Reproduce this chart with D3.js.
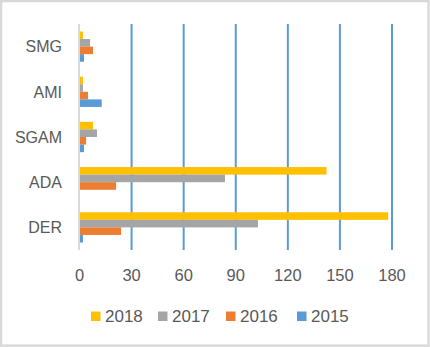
<!DOCTYPE html>
<html>
<head>
<meta charset="utf-8">
<script src="https://cdn.jsdelivr.net/npm/d3@7"></script>
<style>
  html, body { margin: 0; padding: 0; background: #fff; }
  svg { display: block; font-family: "Liberation Sans", Arial, sans-serif; }
</style>
</head>
<body>
<div id="chart"></div>
<script>
// categories top -> bottom, series top -> bottom inside each group
const categories = ['SMG', 'AMI', 'SGAM', 'ADA', 'DER'];
const series = ['2018', '2017', '2016', '2015'];
const legendOrder = ['2018', '2017', '2016', '2015'];
const ticks = [0, 30, 60, 90, 120, 150, 180];

const v2018 = [1.7, 1.7, 7.5, 142, 177.5];
const v2017 = [5.8, 1.7, 9.8, 83.5, 102.5];
const v2016 = [7.5, 4.6, 3.5, 20.8, 23.7];
const v2015 = [2.3, 12.5, 2.3, 0, 1.7];

const valuesBySeries = { '2018': v2018, '2017': v2017, '2016': v2016, '2015': v2015 };
const colors = { '2018': '#FFC000', '2017': '#A5A5A5', '2016': '#ED7D31', '2015': '#5B9BD5' };

const W = 430, H = 347;
const plot = { left: 79.5, right: 392, top: 24, bottom: 250 };

const svg = d3.select('#chart').append('svg').attr('width', W).attr('height', H);

// outer frame
svg.append('rect')
  .attr('x', 1.1).attr('y', 1.1).attr('width', 427.5).attr('height', 344.5)
  .attr('fill', '#fff').attr('stroke', '#D9D9D9').attr('stroke-width', 2.4);

const x = d3.scaleLinear().domain([0, 180]).range([plot.left, plot.right]);
const y0 = d3.scaleBand().domain(categories).range([plot.top, plot.bottom]).padding(0);
const gap = y0.bandwidth() * 0.33;
const y1 = d3.scaleBand().domain(series).range([gap / 2, y0.bandwidth() - gap / 2]).padding(0);

// gridlines
svg.append('g').selectAll('line').data(ticks.filter(t => t > 0)).join('line')
  .attr('x1', d => x(d)).attr('x2', d => x(d))
  .attr('y1', plot.top).attr('y2', plot.bottom)
  .attr('stroke', '#5B9BD5').attr('stroke-width', 2);

// bars
const rows = categories.map((c, i) => ({ cat: c, vals: series.map(s => ({ s, v: valuesBySeries[s][i] })) }));
const grp = svg.append('g').selectAll('g').data(rows).join('g')
  .attr('transform', d => `translate(0,${y0(d.cat)})`);
grp.selectAll('rect').data(d => d.vals.filter(e => e.v > 0)).join('rect')
  .attr('x', x(0) + 0.5)
  .attr('y', d => y1(d.s))
  .attr('width', d => x(d.v) - x(0))
  .attr('height', y1.bandwidth())
  .attr('fill', d => colors[d.s]);

// value axis line at 0
svg.append('line')
  .attr('x1', x(0) - 0.5).attr('x2', x(0) - 0.5)
  .attr('y1', plot.top).attr('y2', plot.bottom)
  .attr('stroke', '#D9D9D9').attr('stroke-width', 2);

// category labels
svg.append('g').selectAll('text').data(categories).join('text')
  .attr('x', 62)
  .attr('y', d => y0(d) + y0.bandwidth() / 2)
  .attr('dy', '0.36em')
  .attr('text-anchor', 'end')
  .attr('font-size', 16)
  .attr('fill', '#595959')
  .text(d => d);

// tick labels
svg.append('g').selectAll('text').data(ticks).join('text')
  .attr('x', d => x(d))
  .attr('y', 280.5)
  .attr('text-anchor', 'middle')
  .attr('font-size', 16.5)
  .attr('fill', '#595959')
  .text(d => d);

// legend
const legX = [91, 158, 226, 297];
const lg = svg.append('g').selectAll('g').data(legendOrder).join('g')
  .attr('transform', (d, i) => `translate(${legX[i]},0)`);
lg.append('rect')
  .attr('x', 0).attr('y', 311.5).attr('width', 9.5).attr('height', 9.5)
  .attr('fill', d => colors[d]);
lg.append('text')
  .attr('x', 14).attr('y', 321.5)
  .attr('font-size', 17)
  .attr('fill', '#595959')
  .text(d => d);
</script>
</body>
</html>
